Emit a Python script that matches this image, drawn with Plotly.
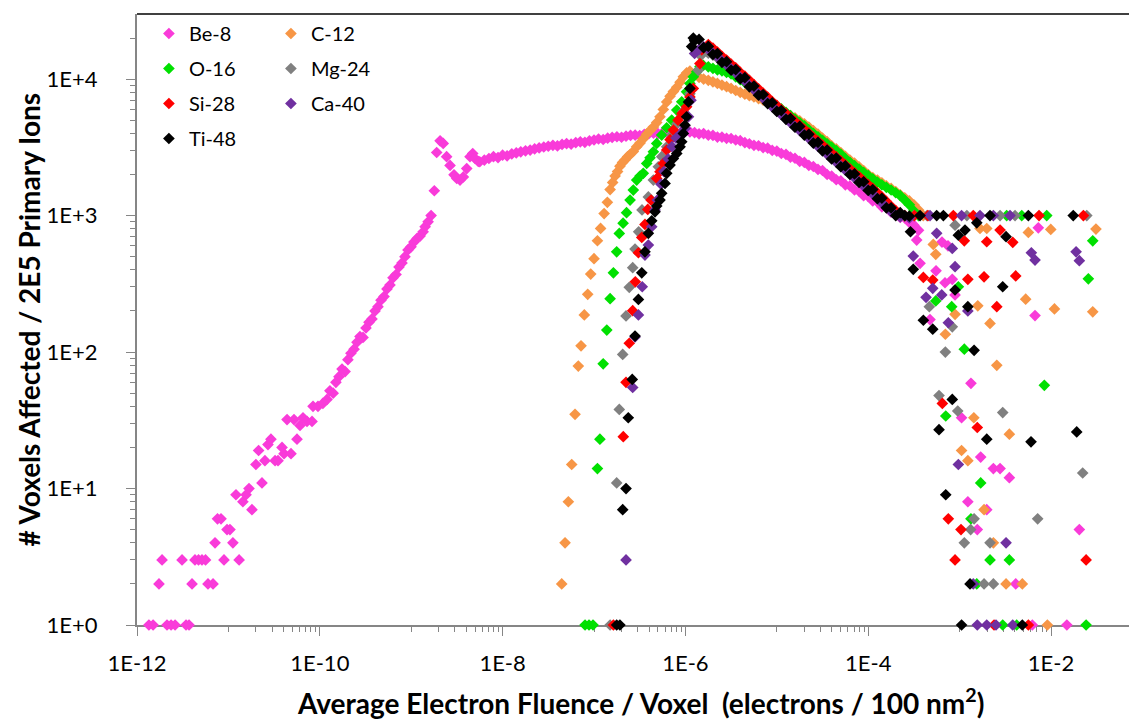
import plotly.graph_objects as go

# ---------------- data ----------------
# shared log-spaced fluence bins for the dense parts of the curves
grid_lo = [5.62e-9, 6.31e-9, 7.08e-9, 7.94e-9, 8.91e-9, 1.00e-8, 1.12e-8, 1.26e-8, 1.41e-8, 1.58e-8,
           1.78e-8, 2.00e-8, 2.24e-8, 2.51e-8, 2.82e-8, 3.16e-8, 3.55e-8, 3.98e-8, 4.47e-8, 5.01e-8,
           5.62e-8, 6.31e-8, 7.08e-8, 7.94e-8, 8.91e-8, 1.00e-7, 1.12e-7, 1.26e-7, 1.41e-7, 1.58e-7,
           1.78e-7, 2.00e-7, 2.24e-7, 2.51e-7, 2.82e-7, 3.16e-7, 3.55e-7, 3.98e-7, 4.47e-7, 5.01e-7,
           5.62e-7, 6.31e-7, 7.08e-7, 7.94e-7, 8.91e-7, 1.00e-6, 1.12e-6]
grid_hi = [1.26e-6, 1.41e-6, 1.58e-6, 1.78e-6, 2.00e-6, 2.24e-6, 2.51e-6, 2.82e-6, 3.16e-6, 3.55e-6,
           3.98e-6, 4.47e-6, 5.01e-6, 5.62e-6, 6.31e-6, 7.08e-6, 7.94e-6, 8.91e-6, 1.00e-5, 1.12e-5,
           1.26e-5, 1.41e-5, 1.58e-5, 1.78e-5, 2.00e-5, 2.24e-5, 2.51e-5, 2.82e-5, 3.16e-5, 3.55e-5,
           3.98e-5, 4.47e-5, 5.01e-5, 5.62e-5, 6.31e-5, 7.08e-5, 7.94e-5, 8.91e-5, 1.00e-4, 1.12e-4,
           1.26e-4, 1.41e-4, 1.58e-4, 1.78e-4, 2.00e-4, 2.24e-4, 2.51e-4, 2.82e-4, 3.16e-4, 3.55e-4]

# Be-8
be8_low_x = [1.35e-12, 1.50e-12, 1.74e-12, 1.88e-12, 2.13e-12, 2.36e-12, 2.61e-12, 3.11e-12, 3.44e-12, 3.71e-12,
             4.00e-12, 4.31e-12, 4.71e-12, 5.14e-12, 5.62e-12, 5.98e-12, 6.79e-12, 7.14e-12, 7.60e-12, 8.30e-12,
             8.95e-12, 9.66e-12, 1.04e-11, 1.12e-11, 1.21e-11, 1.31e-11, 1.44e-11, 1.56e-11, 1.68e-11, 1.81e-11,
             2.00e-11, 2.14e-11, 2.33e-11, 2.51e-11, 2.71e-11, 2.92e-11, 3.24e-11, 3.49e-11, 3.86e-11, 4.06e-11,
             4.38e-11, 4.84e-11, 5.22e-11, 5.63e-11, 6.07e-11, 6.55e-11, 7.24e-11, 8.22e-11, 8.43e-11, 9.55e-11,
             1.08e-10]
be8_low_y = [1, 1, 2, 3, 1, 1, 1, 3, 1, 1,
             2, 3, 3, 3, 3, 2, 2, 4, 6, 6,
             3, 5, 5, 4, 9, 3, 8, 9, 10, 7,
             15, 19, 11, 16, 21, 23, 16, 16, 20, 18,
             32, 18, 32, 23, 29, 33, 31, 31, 40, 40,
             42]
be8_rise_x = [1.20e-10, 1.29e-10, 1.40e-10, 1.50e-10, 1.62e-10, 1.75e-10, 1.89e-10, 2.03e-10, 2.19e-10, 2.37e-10,
              2.55e-10, 2.75e-10, 2.97e-10, 3.20e-10, 3.45e-10, 3.72e-10, 4.02e-10, 4.33e-10, 4.67e-10, 5.04e-10,
              5.43e-10, 5.86e-10, 6.32e-10, 6.82e-10, 7.35e-10, 7.93e-10, 8.55e-10, 9.22e-10, 9.95e-10, 1.07e-9,
              1.16e-9, 1.25e-9, 1.35e-9, 1.42e-9, 1.53e-9, 1.65e-9, 1.79e-9]
be8_rise_y = [45, 52, 50, 60, 66, 75, 72, 88, 98, 105,
              118, 130, 128, 150, 165, 175, 200, 215, 240, 255,
              290, 310, 350, 370, 420, 450, 500, 560, 590, 640,
              680, 708, 760, 830, 900, 1000, 1520]
be8_dip_x = [1.90e-9, 2.07e-9, 2.24e-9, 2.44e-9, 2.66e-9, 2.94e-9, 3.15e-9, 3.42e-9, 3.72e-9, 4.05e-9,
             4.40e-9, 4.71e-9, 4.99e-9, 5.42e-9]
be8_dip_y = [2900, 3530, 3380, 2700, 2330, 1990, 1870, 1820, 1920, 2210,
             2700, 2850, 2620, 2490]
be8_band_lo = [2480, 2550, 2620, 2700, 2660, 2770, 2740, 2830, 2880, 2930,
               2980, 3020, 3080, 3130, 3180, 3220, 3270, 3240, 3320, 3370,
               3340, 3420, 3470, 3440, 3530, 3580, 3640, 3610, 3690, 3740,
               3780, 3750, 3820, 3870, 3890, 3860, 3940, 3990, 4020, 3980,
               4040, 4010, 3970, 4040, 4090, 4150, 4100]
be8_band_hi = [4050, 3970, 3990, 3880, 3870, 3760, 3760, 3680, 3670, 3580,
               3540, 3420, 3360, 3270, 3250, 3150, 3120, 3000, 2970, 2850,
               2810, 2680, 2630, 2500, 2450, 2330, 2290, 2180, 2140, 2000,
               1950, 1830, 1800, 1680, 1650, 1540, 1510, 1400, 1380, 1280,
               1260, 1160, 1150, 1060, 1050, 970, 960, 890, 850, 780]
be8_tail_x = [3.39e-4, 3.69e-4, 4.74e-4, 5.52e-4, 6.41e-4, 6.92e-4, 7.46e-4, 8.31e-4, 8.91e-4, 1.05e-3,
              1.23e-3, 1.33e-3, 1.56e-3, 1.70e-3, 1.98e-3, 2.34e-3, 2.77e-3, 3.50e-3, 4.11e-3, 6.24e-3,
              6.68e-3, 7.26e-3, 1.49e-2, 2.04e-2]
be8_tail_y = [662, 447, 173, 394, 640, 322, 600, 341, 262, 33,
              8, 59, 5, 17, 7, 14, 14, 12, 2, 1,
              185, 814, 1, 5]

# C-12
c12_rise_x = [4.43e-8, 4.82e-8, 5.24e-8, 5.70e-8, 6.20e-8, 6.73e-8, 7.21e-8, 7.83e-8, 8.53e-8, 9.20e-8,
              1.00e-7, 1.09e-7, 1.18e-7, 1.29e-7, 1.40e-7, 1.50e-7, 1.60e-7, 1.70e-7, 1.81e-7, 1.92e-7,
              2.05e-7, 2.18e-7, 2.33e-7, 2.48e-7, 2.69e-7, 2.93e-7, 3.19e-7, 3.46e-7, 3.77e-7, 4.10e-7,
              4.46e-7, 4.85e-7, 5.27e-7, 5.73e-7, 6.24e-7, 6.79e-7, 7.38e-7, 8.04e-7, 8.73e-7, 9.49e-7,
              1.03e-6, 1.12e-6]
c12_rise_y = [2, 4, 8, 15, 35, 79, 111, 187, 265, 373,
              483, 654, 805, 1035, 1250, 1550, 1750, 1950, 2100, 2300,
              2450, 2550, 2700, 2800, 2950, 3200, 3400, 3650, 3950, 4200,
              4450, 4800, 5300, 6000, 6800, 7500, 8100, 8700, 9500, 10400,
              11100, 11450]
c12_band = [10800, 10300, 10000, 9800, 9550, 9300, 9050, 8800, 8550, 8250,
            8000, 7750, 7550, 7400, 7200, 7000, 6700, 6400, 6100, 5850,
            5600, 5400, 5200, 4950, 4700, 4450, 4200, 3950, 3700, 3480,
            3250, 3080, 2900, 2720, 2550, 2420, 2280, 2140, 2000, 1900,
            1820, 1740, 1650, 1580, 1500, 1420, 1350, 1280, 1200, 1100]
c12_tail_x = [4.00e-4, 5.15e-4, 5.48e-4, 6.98e-4, 8.91e-4, 1.05e-3, 1.23e-3, 1.43e-3, 1.58e-3, 1.67e-3,
              1.85e-3, 1.98e-3, 2.15e-3, 2.34e-3, 2.55e-3, 3.22e-3, 3.50e-3, 4.85e-3, 5.28e-3, 5.65e-3,
              9.12e-3, 9.93e-3, 1.09e-2, 2.86e-2, 3.10e-2]
c12_tail_y = [1000, 615, 520, 135, 189, 19, 16, 33, 218, 804,
              7, 804, 162, 4, 80, 2, 25, 2, 244, 753,
              1, 792, 207, 197, 796]

# O-16
o16_rise_x = [7.98e-8, 8.82e-8, 9.75e-8, 1.09e-7, 1.16e-7, 1.26e-7, 1.38e-7, 1.50e-7, 1.63e-7, 1.77e-7,
              1.89e-7, 2.08e-7, 2.27e-7, 2.48e-7, 2.69e-7, 2.93e-7, 3.19e-7, 3.46e-7, 3.77e-7, 4.10e-7,
              4.46e-7, 4.85e-7, 5.50e-7, 6.24e-7, 7.08e-7, 8.04e-7, 9.11e-7, 1.03e-6, 1.12e-6, 1.22e-6,
              1.33e-6, 1.44e-6, 1.57e-6]
o16_rise_y = [1, 1, 1, 14, 23, 82, 145, 246, 381, 543,
              740, 880, 1050, 1300, 1537, 1820, 1950, 2040, 2410, 2650,
              2930, 3380, 3890, 4400, 5010, 5930, 6820, 8070, 9300, 10400,
              11300, 12300, 12600]
o16_band = [None, None, None, 12300, 12000, 11700, 11500, 11200, 10900, 10400,
            9900, 9450, 9000, 8450, 7950, 7450, 7050, 6700, 6350, 6050,
            5700, 5400, 5100, 4800, 4550, 4250, 4000, 3780, 3560, 3360,
            3170, 2990, 2820, 2620, 2460, 2320, 2190, 2070, 1960, 1860,
            1760, 1680, 1610, 1540, 1470, 1400, 1300, 1200, 1080, None]
o16_tail_x = [3.55e-4, 5.48e-4, 7.05e-4, 8.19e-4, 9.68e-4, 1.125e-3, 1.33e-3, 1.54e-3, 1.70e-3, 2.15e-3,
              2.96e-3, 3.27e-3, 3.50e-3, 4.21e-3, 4.78e-3, 8.45e-3, 8.97e-3, 2.42e-2, 2.56e-2, 2.86e-2]
o16_tail_y = [1000, 237, 34, 215, 301, 105, 6, 2, 11, 3,
              1, 1000, 3, 1, 1000, 57, 1000, 1, 344, 653]

# Mg-24
mg24_rise_x = [1.50e-7, 1.77e-7, 1.89e-7, 2.06e-7, 2.24e-7, 2.43e-7, 2.65e-7, 2.81e-7, 3.08e-7, 3.35e-7,
               3.93e-7, 4.46e-7, 5.05e-7, 5.50e-7, 6.24e-7, 7.13e-7, 8.09e-7, 9.42e-7, 1.12e-6, 1.38e-6,
               1.47e-6]
mg24_rise_y = [1, 11, 38, 96, 184, 298, 415, 568, 760, 1100,
               1370, 1820, 2280, 2700, 3190, 3900, 4700, 5800, 7800, 11600,
               14800]
mg24_band = [None, None, None, 15500, 15000, 14300, 13500, 12800, 12300, 11600,
             10900, 10200, 9500, 8850, 8240, 7680, 7160, 6640, 6230, 5820,
             5440, 5090, 4760, 4460, 4170, 3900, 3650, 3410, 3190, 2990,
             2790, 2620, 2450, 2290, 2140, 2000, 1870, 1750, 1640, 1530,
             1430, 1330, 1230, 1130, 1060, 1010, 990, None, None, None]
mg24_tail_x = [3.16e-4, 4.40e-4, 4.66e-4, 5.95e-4, 6.98e-4, 8.31e-4, 8.91e-4, 9.53e-4, 1.125e-3, 1.20e-3,
               1.32e-3, 1.44e-3, 1.85e-3, 2.15e-3, 2.34e-3, 2.77e-3, 2.96e-3, 4.04e-3, 7.14e-3, 2.22e-2,
               2.46e-2]
mg24_tail_y = [1000, 1000, 215, 48, 100, 153, 851, 37, 4, 1000,
               5, 6, 2, 4, 2, 1000, 36, 1000, 6, 13,
               1000]

# Si-28
si28_rise_x = [1.63e-7, 2.09e-7, 2.24e-7, 2.43e-7, 2.65e-7, 2.83e-7, 3.06e-7, 3.33e-7, 3.61e-7, 3.87e-7,
               4.21e-7, 4.85e-7, 5.27e-7, 5.73e-7, 6.24e-7, 6.79e-7, 7.38e-7, 8.30e-7, 9.18e-7, 1.03e-6,
               1.12e-6, 1.22e-6, 1.44e-6, 1.51e-6]
si28_rise_y = [1, 24, 60, 116, 201, 327, 534, 692, 861, 1110,
               1300, 1870, 2095, 2410, 3020, 3600, 4230, 5000, 5600, 6270,
               7400, 8550, 13000, 16400]
si28_band = [None, None, 17000, 17900, 16850, 15800, 14700, 13800, 12900, 12100,
             11200, 10500, 9800, 9100, 8480, 7900, 7370, 6840, 6410, 5990,
             5600, 5240, 4900, 4590, 4290, 4020, 3750, 3510, 3290, 3070,
             2870, 2690, 2520, 2350, 2200, 2060, 1930, 1800, 1690, 1580,
             1470, 1370, 1270, 1170, 1090, 1030, 1000, None, None, None]
si28_tail_x = [3.20e-4, 4.01e-4, 4.50e-4, 5.08e-4, 6.47e-4, 7.52e-4, 8.53e-4, 8.91e-4, 1.035e-3, 1.125e-3,
               1.23e-3, 1.41e-3, 1.56e-3, 1.85e-3, 1.98e-3, 2.38e-3, 2.55e-3, 2.77e-3, 3.81e-3, 4.11e-3,
               5.65e-3, 7.39e-3, 2.26e-2, 2.42e-2]
si28_tail_y = [1000, 352, 1000, 337, 42, 6, 1000, 3, 5, 653,
               341, 1000, 28, 356, 643, 1, 215, 783, 637, 361,
               1, 1000, 1000, 3]

# Ca-40
ca40_rise_x = [2.24e-7, 2.65e-7, 2.81e-7, 3.06e-7, 3.37e-7, 3.61e-7, 3.93e-7, 4.28e-7, 4.65e-7, 4.93e-7,
               5.41e-7, 5.83e-7, 6.46e-7, 7.13e-7, 7.89e-7, 8.95e-7, 9.90e-7, 1.08e-6, 1.15e-6]
ca40_rise_y = [3, 55, 129, 187, 301, 514, 608, 828, 1100, 1300,
               1700, 2100, 2600, 3200, 3700, 4000, 4350, 5300, 7000]
ca40_band = [15400, 16500, 17200, 16500, 15500, 14600, 13600, 12700, 11900, 11100,
             10300, 9650, 9000, 8350, 7780, 7230, 6740, 6260, 5860, 5480,
             5120, 4790, 4480, 4200, 3930, 3680, 3430, 3210, 3010, 2810,
             2630, 2460, 2310, 2150, 2020, 1890, 1770, 1650, 1540, 1440,
             1340, 1240, 1150, 1070, 1010, 980, None, None, None, None]
ca40_tail_x = [2.82e-4, 3.11e-4, 4.29e-4, 4.74e-4, 5.08e-4, 5.61e-4, 6.37e-4, 7.52e-4, 8.31e-4, 8.91e-4,
               9.68e-4, 1.05e-3, 1.23e-3, 1.41e-3, 1.56e-3, 1.67e-3, 1.98e-3, 2.34e-3, 2.50e-3, 3.22e-3,
               3.56e-3, 3.81e-3, 6.09e-3, 6.68e-3, 1.88e-2, 2.04e-2]
ca40_tail_y = [960, 505, 252, 1000, 293, 741, 262, 164, 575, 422,
               15, 1000, 200, 2, 1, 1000, 1, 1000, 1, 4,
               1000, 1, 534, 472, 543, 467]

# Ti-48
ti48_rise_x = [1.77e-7, 1.92e-7, 2.06e-7, 2.24e-7, 2.37e-7, 2.62e-7, 2.81e-7, 3.06e-7, 3.33e-7, 3.61e-7,
               3.93e-7, 4.28e-7, 4.65e-7, 4.85e-7, 5.27e-7, 5.50e-7, 5.98e-7, 6.24e-7, 6.79e-7, 7.38e-7,
               8.04e-7, 8.73e-7, 9.11e-7, 9.49e-7, 9.90e-7, 1.03e-6, 1.08e-6, 1.12e-6, 1.17e-6, 1.22e-6]
ti48_rise_y = [1, 1, 7, 10, 33, 63, 131, 243, 381, 543,
               741, 916, 1066, 1175, 1300, 1455, 1720, 2040, 2345, 2620,
               2850, 3190, 3475, 4000, 4600, 5300, 6800, 8550, 17300, 20000]
ti48_band = [19100, 19550, 17000, 17370, 15170, 15390, 13250, 13420, 11620, 11750,
             10080, 10240, 8780, 8890, 7630, 7700, 6620, 6710, 5800, 5880,
             5070, 5140, 4440, 4500, 3890, 3940, 3400, 3440, 2980, 3020,
             2600, 2640, 2280, 2310, 2000, 2020, 1750, 1770, 1530, 1550,
             1330, 1340, 1140, 1140, 1000, 1050, 1000, 990, None, None]
ti48_tail_x = [2.90e-4, 3.11e-4, 3.69e-4, 4.01e-4, 5.08e-4, 5.61e-4, 5.95e-4, 6.64e-4, 7.05e-4, 8.31e-4,
               8.91e-4, 9.68e-4, 1.05e-3, 1.145e-3, 1.23e-3, 1.30e-3, 1.44e-3, 1.54e-3, 1.98e-3, 2.15e-3,
               2.96e-3, 3.22e-3, 4.85e-3, 5.65e-3, 6.04e-3, 1.75e-2, 1.91e-2]
ti48_tail_y = [761, 404, 1000, 171, 147, 1000, 27, 1000, 9, 45,
               285, 719, 1, 783, 215, 2, 103, 885, 23, 1000,
               301, 700, 1, 1000, 22, 1000, 26]

# axis ticks
x_major = [1e-12, 1e-10, 1e-8, 1e-6, 1e-4, 1e-2]
x_labels = ["1E-12", "1E-10", "1E-8", "1E-6", "1E-4", "1E-2"]
y_major = [1, 10, 100, 1000, 10000]
y_labels = ["1E+0", "1E+1", "1E+2", "1E+3", "1E+4"]

# ---------------- assemble series ----------------
series = [
    ("Be-8", be8_low_x + be8_rise_x + be8_dip_x + grid_lo + grid_hi + be8_tail_x,
             be8_low_y + be8_rise_y + be8_dip_y + be8_band_lo + be8_band_hi + be8_tail_y, "#F93BD9", "legend"),
    ("C-12", c12_rise_x + grid_hi + c12_tail_x, c12_rise_y + c12_band + c12_tail_y, "#F79646", "legend2"),
    ("O-16", o16_rise_x + grid_hi + o16_tail_x, o16_rise_y + o16_band + o16_tail_y, "#00E000", "legend"),
    ("Mg-24", mg24_rise_x + grid_hi + mg24_tail_x, mg24_rise_y + mg24_band + mg24_tail_y, "#808080", "legend2"),
    ("Si-28", si28_rise_x + grid_hi + si28_tail_x, si28_rise_y + si28_band + si28_tail_y, "#FF0000", "legend"),
    ("Ca-40", ca40_rise_x + grid_hi + ca40_tail_x, ca40_rise_y + ca40_band + ca40_tail_y, "#7030A0", "legend2"),
    ("Ti-48", ti48_rise_x + grid_hi + ti48_tail_x, ti48_rise_y + ti48_band + ti48_tail_y, "#000000", "legend"),
]

fig = go.Figure()
for name, xs, ys, color, leg in series:
    fig.add_trace(go.Scatter(
        x=xs, y=ys, mode="markers", name=name, legend=leg, legendgroup=name,
        marker=dict(symbol="diamond", size=9, color=color, line=dict(width=0)),
        cliponaxis=False, hoverinfo="x+y+name",
    ))

# minor tick positions
x_minor = [k * 10.0 ** e for e in (-11, -9, -7, -5, -3) for k in range(1, 10)]
y_minor = [k * 10.0 ** e for e in range(0, 5) for k in range(2, 10) if k * 10.0 ** e < 30000]

axis_gray = "#868686"
FONT = "Lato, 'Open Sans', sans-serif"

fig.update_xaxes(
    type="log", range=[-12, -1.147],
    tickmode="array", tickvals=x_major, ticktext=x_labels,
    ticks="outside", ticklen=9, tickwidth=1, tickcolor=axis_gray,
    showline=True, linecolor=axis_gray, linewidth=2,
    showgrid=False, zeroline=False, layer="below traces",
    tickfont=dict(family=FONT, size=22, color="black"),
    ticklabelstandoff=9,
    minor=dict(tickmode="array", tickvals=x_minor, ticks="outside", ticklen=5,
               tickwidth=1, tickcolor=axis_gray, showgrid=False),
)
fig.update_yaxes(
    type="log", range=[0, 4.4771],
    tickmode="array", tickvals=y_major, ticktext=y_labels,
    ticks="outside", ticklen=9, tickwidth=1, tickcolor=axis_gray,
    showline=True, linecolor=axis_gray, linewidth=2,
    showgrid=False, zeroline=False, layer="below traces",
    tickfont=dict(family=FONT, size=22, color="black"),
    ticklabelstandoff=24,
    minor=dict(tickmode="array", tickvals=y_minor, ticks="outside", ticklen=5,
               tickwidth=1, tickcolor=axis_gray, showgrid=False),
)

# plot-area top border
fig.add_shape(type="line", xref="paper", yref="paper", x0=0, x1=1, y0=1, y1=1,
              line=dict(color="#404040", width=2))

legend_style = dict(xanchor="left", yanchor="top", bgcolor="rgba(0,0,0,0)", borderwidth=0,
                    font=dict(family=FONT, size=20, color="black"), tracegroupgap=6,
                    itemclick=False, itemdoubleclick=False)
fig.update_layout(
    width=1129, height=721,
    margin=dict(l=137, r=0, t=14, b=96),
    paper_bgcolor="white", plot_bgcolor="white",
    font=dict(family=FONT, color="black"),
    showlegend=True,
    legend=dict(x=0.012, y=1.0, **legend_style),
    legend2=dict(x=0.135, y=1.0, **legend_style),
    annotations=[
        dict(text="<b>Average Electron Fluence / Voxel \u00a0(electrons / 100 nm<sup>2</sup>)</b>",
             xref="paper", yref="paper", x=0.508, y=-0.126, xanchor="center", yanchor="middle",
             showarrow=False, font=dict(family=FONT, size=28, color="black")),
        dict(text="<b># Voxels Affected / 2E5 Primary Ions</b>",
             xref="paper", yref="paper", x=-0.1089, y=0.5, xanchor="center", yanchor="middle",
             textangle=-90, showarrow=False, font=dict(family=FONT, size=28, color="black")),
    ],
)

fig.write_html("out.html")
